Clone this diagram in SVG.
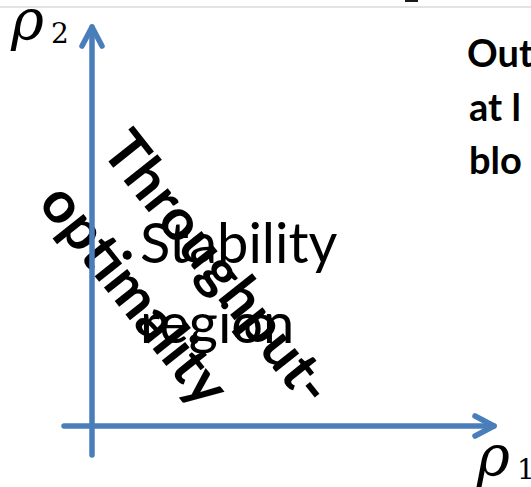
<svg xmlns="http://www.w3.org/2000/svg" width="531" height="487" viewBox="0 0 531 487">
  <style>
    .axis { stroke: #4A7EBB; stroke-width: 5.5; fill: none; stroke-linecap: round; }
    .big { font-family: Lato, "Liberation Sans", sans-serif; font-size: 56px; fill: #000; }
    .bold { font-weight: bold; font-size: 58px; }
    .side { font-family: Lato, "Liberation Sans", sans-serif; font-size: 38px; font-weight: bold; fill: #000; }
    .rho { font-family: "DejaVu Serif", "Liberation Serif", serif; font-style: italic; font-size: 56px; fill: #000; }
    .sub { font-family: "DejaVu Serif", "Liberation Serif", serif; font-size: 28px; fill: #000; }
  </style>
  <defs>
    <marker id="arrow" markerUnits="userSpaceOnUse" markerWidth="40" markerHeight="40" viewBox="-30 -20 40 40" refX="0" refY="0" orient="auto">
      <path d="M-19,-10 L0,0 L-19,10" fill="none" stroke="#4A7EBB" stroke-width="5.5" stroke-linecap="round" stroke-linejoin="round"/>
    </marker>
  </defs>
  <rect width="531" height="487" fill="#fff"/>
  <line x1="0" y1="7" x2="531" y2="7" stroke="#c8c8c8" stroke-width="1.2"/>
  <rect x="405" y="0" width="13" height="2" fill="#1a1a1a"/>

  <g id="stability-region">
    <text class="big" x="140" y="263">Stability</text>
    <text class="big" x="140" y="343">region</text>
  </g>

  <g id="throughput-optimality" transform="translate(100,151) rotate(51.5)">
    <text class="big bold" x="0" y="0" textLength="330">Throughput-</text>
    <text class="big bold" x="2" y="82" textLength="264">optimality</text>
  </g>

  <g id="connectors">
    <line class="axis" x1="92" y1="455" x2="92" y2="27" marker-end="url(#arrow)"/>
    <line class="axis" x1="64" y1="426" x2="494" y2="426" marker-end="url(#arrow)"/>
  </g>

  <g id="rho2">
    <text class="rho" x="11" y="39">ρ</text>
    <text class="sub" x="51" y="43">2</text>
  </g>
  <g id="rho1">
    <text class="rho" x="477" y="475">ρ</text>
    <text class="sub" x="517" y="479">1</text>
  </g>

  <g id="side-text">
    <text class="side" x="467" y="67">Out</text>
    <text class="side" x="469" y="121">at l</text>
    <text class="side" x="469" y="174">blo</text>
  </g>
</svg>
